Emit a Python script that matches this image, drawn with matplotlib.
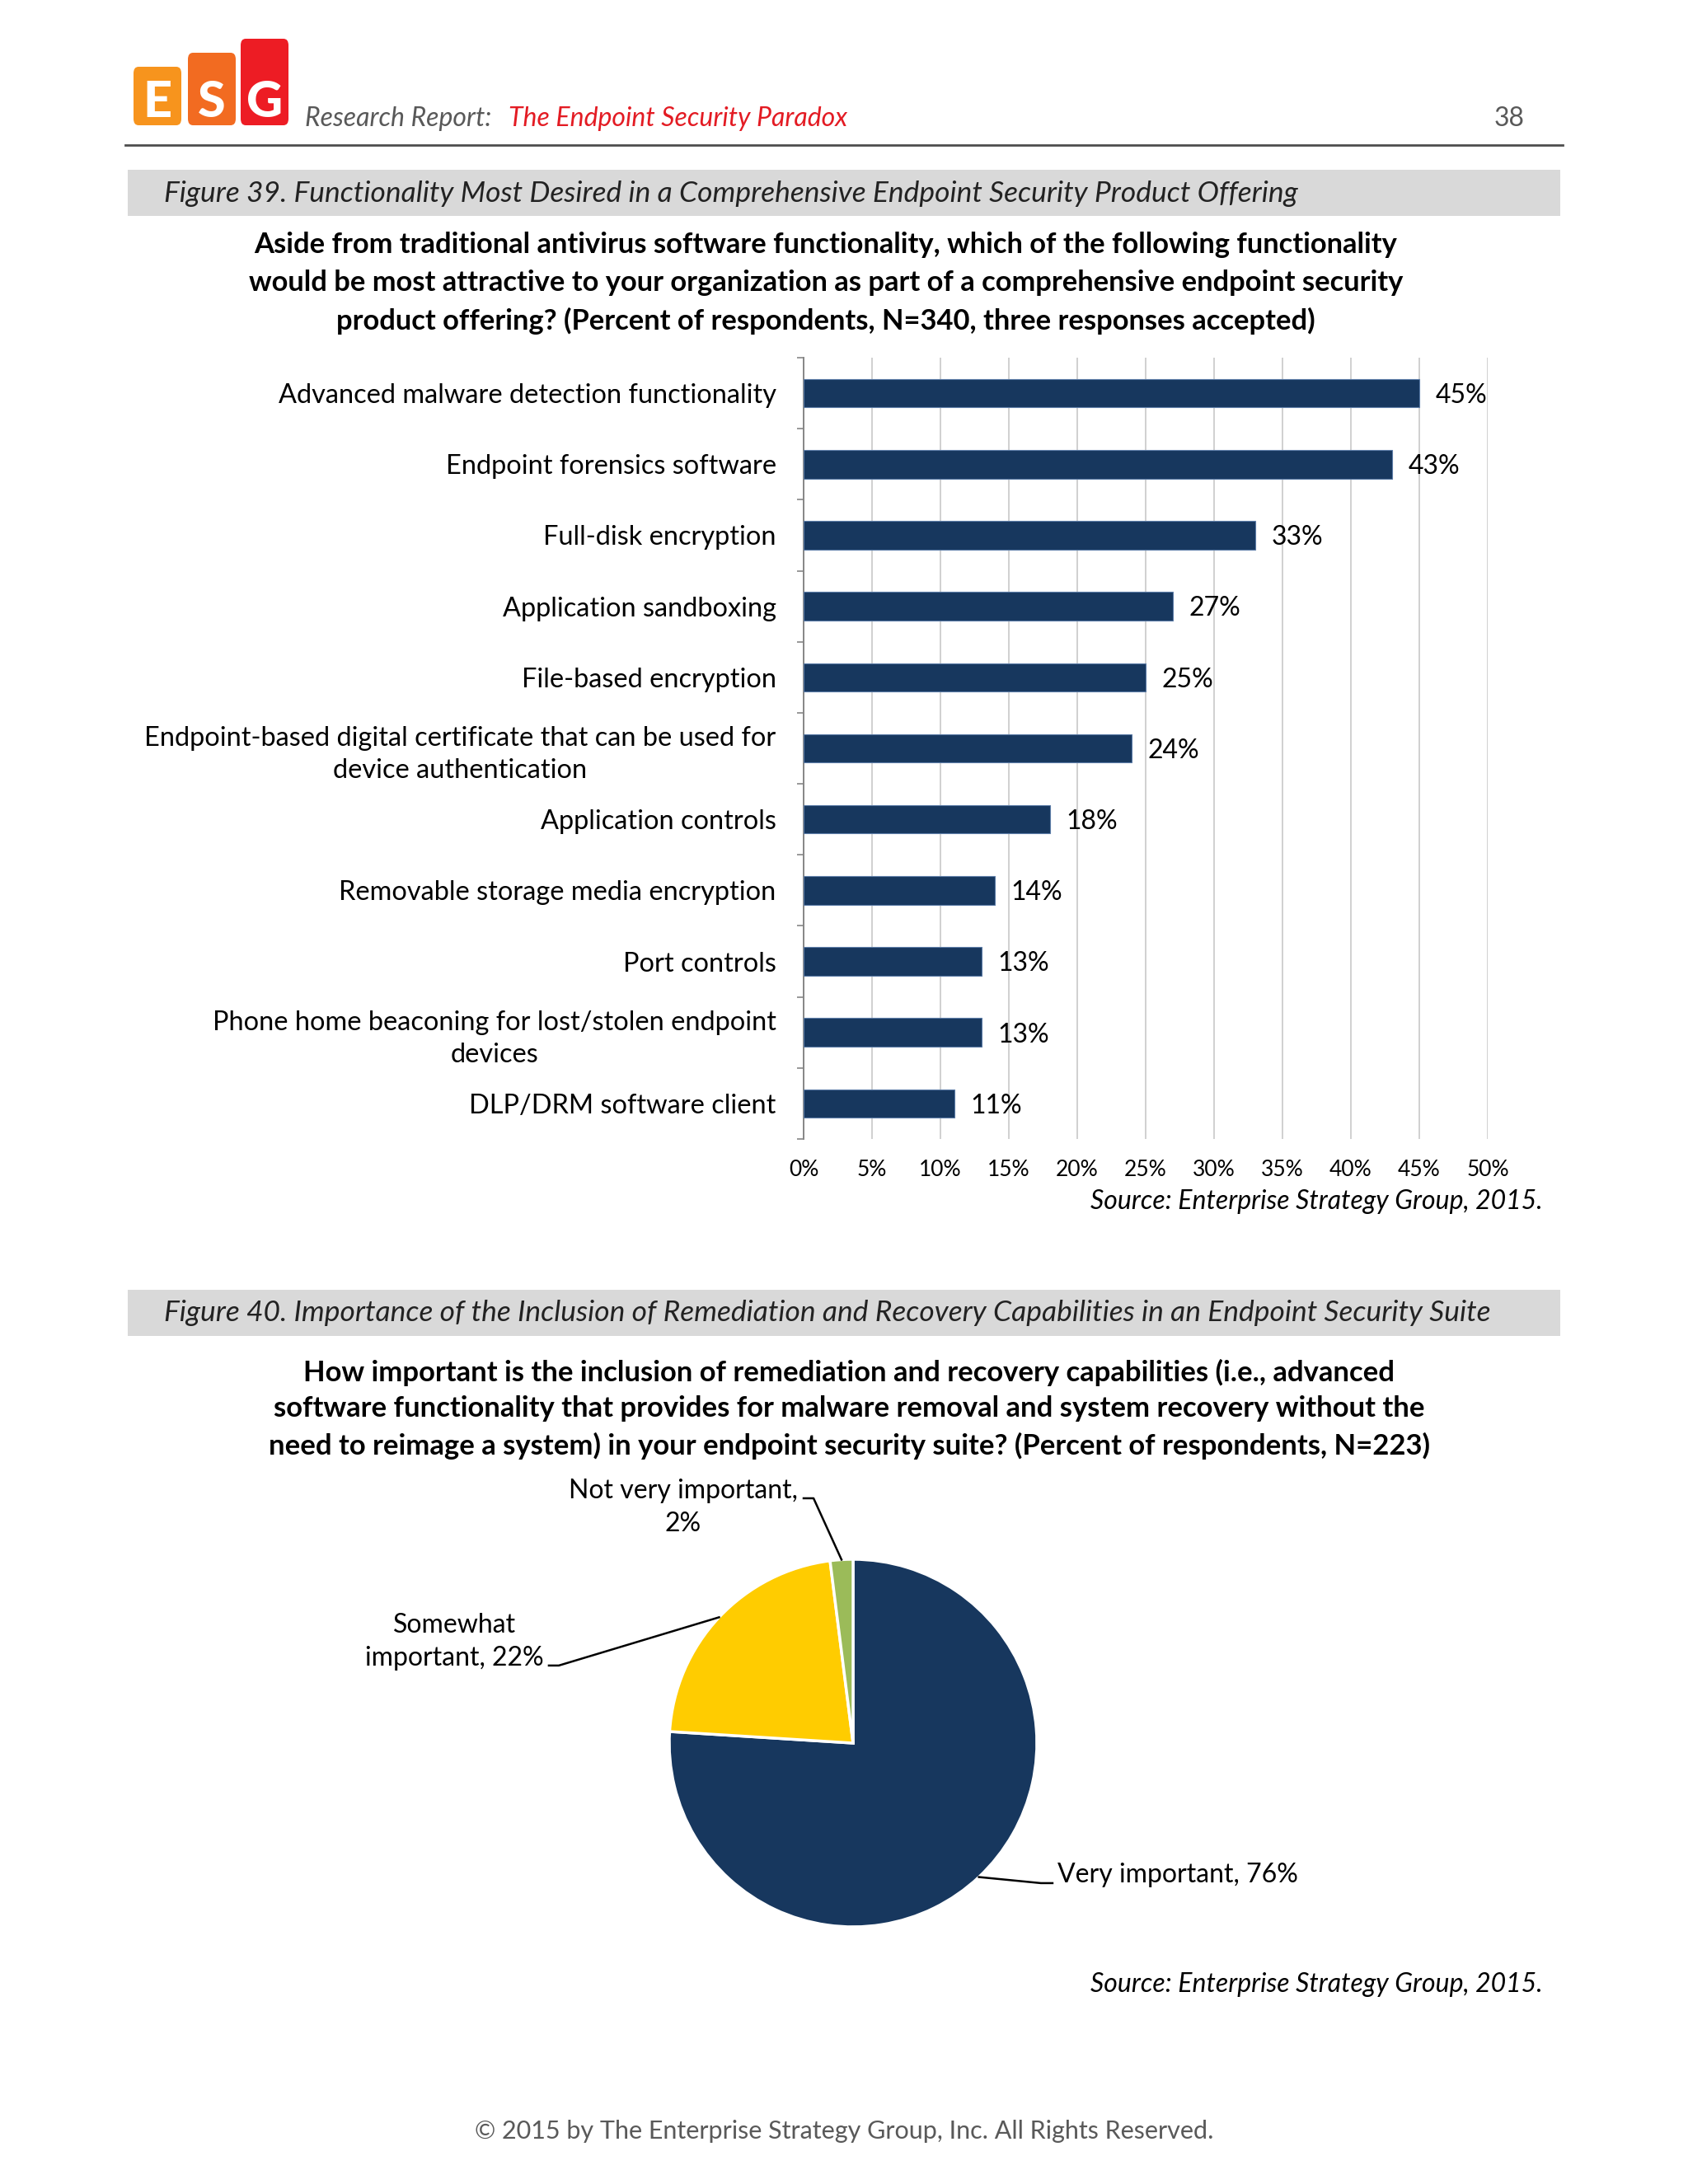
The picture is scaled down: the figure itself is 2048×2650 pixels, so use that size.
import numpy as np
import matplotlib
matplotlib.use("Agg")
import matplotlib.pyplot as plt
from matplotlib.patches import Rectangle, FancyBboxPatch
from matplotlib.ticker import MultipleLocator, FixedLocator, PercentFormatter

plt.rcParams['font.family'] = ['Lato', 'DejaVu Sans']

W, H = 2048, 2650

# figure 39 data
features = [
    "Advanced malware detection functionality",
    "Endpoint forensics software",
    "Full-disk encryption",
    "Application sandboxing",
    "File-based encryption",
    "Endpoint-based digital certificate that can be used for\ndevice authentication",
    "Application controls",
    "Removable storage media encryption",
    "Port controls",
    "Phone home beaconing for lost/stolen endpoint\ndevices",
    "DLP/DRM software client",
]
shares = [0.45, 0.43, 0.33, 0.27, 0.25, 0.24, 0.18, 0.14, 0.13, 0.13, 0.11]

# figure 40 data
importance = ["Very important", "Somewhat\nimportant", "Not very important,\n"]
importance_pct = [76, 22, 2]
pie_colors = ["#17375E", "#FFCC00", "#9BBB59"]

NAVY = "#17375E"
GREY_TXT = "#595959"
BAND = "#D9D9D9"


def fx(x):
    return x / W


def fy(y):
    return 1 - y / H


fig = plt.figure(figsize=(W / 100, H / 100), dpi=100)

# ---- page header / logo
logo = [("E", "#F7941D", 162, 81), ("S", "#F26B21", 228, 64), ("G", "#ED1C24", 292, 47)]
for letter, col, x0, y0 in logo:
    fig.patches.append(FancyBboxPatch((fx(x0), fy(152)), fx(58), (152 - y0) / H,
                                      boxstyle="round,pad=0,rounding_size=0.003",
                                      transform=fig.transFigure, facecolor=col,
                                      edgecolor="none"))
    fig.text(fx(x0 + 29), fy(124), letter, color="white", fontsize=44,
             fontweight="black", ha="center", va="center")

fig.text(fx(370), fy(153), "Research Report:", color=GREY_TXT, fontsize=23,
         style="italic", va="baseline")
fig.text(fx(617), fy(153), "The Endpoint Security Paradox", color="#E31B23",
         fontsize=23, style="italic", va="baseline")
fig.text(fx(1850), fy(153), "38", color=GREY_TXT, fontsize=23, ha="right",
         va="baseline")
fig.add_artist(plt.Line2D([fx(152), fx(1896)], [fy(176), fy(176)],
                          color="#4D4D4D", lw=2))

# ---- figure 39 caption + question
fig.patches.append(Rectangle((fx(155), fy(262)), fx(1738), 56 / H,
                             transform=fig.transFigure, facecolor=BAND,
                             edgecolor="none"))
fig.text(fx(199), fy(235), "Figure 39. Functionality Most Desired in a "
         "Comprehensive Endpoint Security Product Offering",
         fontsize=25.5, style="italic", va="center", color="#222222")

q1 = ["Aside from traditional antivirus software functionality, which of the following functionality",
      "would be most attractive to your organization as part of a comprehensive endpoint security",
      "product offering? (Percent of respondents, N=340, three responses accepted)"]
for line, yy in zip(q1, [297, 343, 389]):
    fig.text(fx(1002), fy(yy), line, fontsize=24.8, fontweight="bold",
             ha="center", va="center")

# ---- bar chart
ax = fig.add_axes([fx(975), fy(1382), fx(1805 - 975), (1382 - 434) / H])
ypos = np.arange(len(features))
ax.barh(ypos, shares, height=0.4, color=NAVY, edgecolor="#5B7BA6",
        linewidth=0.8, zorder=3)
for y, v in zip(ypos, shares):
    ax.annotate(f"{v * 100:.0f}%", (v, y), xytext=(14, -2),
                textcoords="offset points", va="center", ha="left",
                fontsize=23)
ax.set_xlim(0, 0.5)
ax.set_ylim(len(features) - 0.5, -0.5)
ax.xaxis.set_major_locator(MultipleLocator(0.05))
ax.xaxis.set_major_formatter(PercentFormatter(1.0, decimals=0))
ax.grid(axis="x", color="#D0D0D0", lw=1.4, zorder=0)
ax.set_yticks(ypos)
ax.set_yticklabels(features, fontsize=23.4)
for lab in ax.get_yticklabels():
    lab.set_multialignment("center")
    lab.set_linespacing(1.38)
ax.yaxis.set_minor_locator(FixedLocator(np.arange(-0.5, len(features), 1.0)))
ax.tick_params(axis="y", which="major", length=0, pad=24)
ax.tick_params(axis="y", which="minor", length=6, width=1.2, color="#868686")
ax.tick_params(axis="x", length=0, pad=18, labelsize=19)
for s in ["top", "right", "bottom"]:
    ax.spines[s].set_visible(False)
ax.spines["left"].set_color("#868686")
ax.spines["left"].set_linewidth(1.4)

fig.text(fx(1872), fy(1458), "Source: Enterprise Strategy Group, 2015.",
         fontsize=23, style="italic", ha="right", va="center")

# ---- figure 40 caption + question
fig.patches.append(Rectangle((fx(155), fy(1621)), fx(1738), 56 / H,
                             transform=fig.transFigure, facecolor=BAND,
                             edgecolor="none"))
fig.text(fx(199), fy(1593), "Figure 40. Importance of the Inclusion of Remediation "
         "and Recovery Capabilities in an Endpoint Security Suite",
         fontsize=25.5, style="italic", va="center", color="#222222")

q2 = ["How important is the inclusion of remediation and recovery capabilities (i.e., advanced",
      "software functionality that provides for malware removal and system recovery without the",
      "need to reimage a system) in your endpoint security suite? (Percent of respondents, N=223)"]
for line, yy in zip(q2, [1665, 1709, 1754]):
    fig.text(fx(1030), fy(yy), line, fontsize=24.9, fontweight="bold",
             ha="center", va="center")

# ---- pie chart
R = 223
pax = fig.add_axes([fx(1035 - R), fy(2115 + R), fx(2 * R), 2 * R / H])
wedges, _ = pax.pie(importance_pct, colors=pie_colors, startangle=90,
                    counterclock=False, radius=1,
                    wedgeprops=dict(edgecolor="white", linewidth=2.5))
pax.set_xlim(-1, 1)
pax.set_ylim(-1, 1)
pax.set_aspect("equal")
pax.axis("off")

# label text positions (in pie radius units) and leader elbows
label_xy = [(1.112, -0.717), (-2.170, 0.552), (-0.924, 1.283)]
label_ha = ["left", "center", "center"]
leader_start = [(1.085, -0.762), (-1.655, 0.422), (-0.269, 1.332)]
leader_elbow = [(1.022, -0.762), (-1.601, 0.422), (-0.215, 1.332)]
for w, name, pct, (tx, ty), ha, st, el in zip(wedges, importance, importance_pct,
                                             label_xy, label_ha, leader_start,
                                             leader_elbow):
    ang = np.deg2rad((w.theta1 + w.theta2) / 2)
    edge = (np.cos(ang), np.sin(ang))
    sep = "" if name.endswith("\n") else ", "
    pax.text(tx, ty, f"{name}{sep}{pct}%", ha=ha, va="center", fontsize=23,
             multialignment="center", linespacing=1.42)
    pax.plot([st[0], el[0], edge[0]], [st[1], el[1], edge[1]], color="black",
             lw=1.8, clip_on=False)

fig.text(fx(1872), fy(2408), "Source: Enterprise Strategy Group, 2015.",
         fontsize=23, style="italic", ha="right", va="center")

fig.text(fx(1024), fy(2586),
         "\u00a9 2015 by The Enterprise Strategy Group, Inc. All Rights Reserved.",
         fontsize=22, ha="center", va="center", color=GREY_TXT)

fig.savefig("out.png", dpi=100, facecolor="white")
